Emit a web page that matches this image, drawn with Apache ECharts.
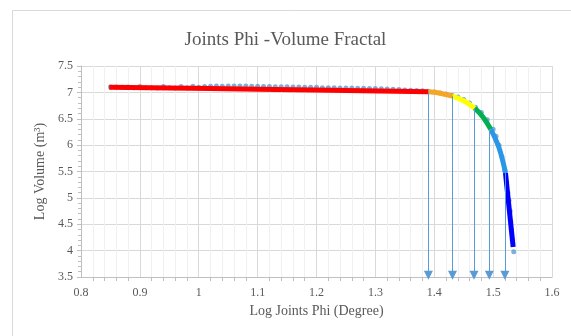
<!DOCTYPE html>
<html>
<head>
<meta charset="utf-8">
<script src="https://cdn.jsdelivr.net/npm/echarts@6/dist/echarts.min.js"></script>
<style>
  html, body { margin: 0; padding: 0; background: #fff; }
  #chart { width: 571px; height: 336px; }
</style>
</head>
<body>
<div id="chart"></div>
<script>
// scatter of raw points (log phi, log volume)
var rawX = [0.85, 0.86, 0.87, 0.88, 0.89, 0.90, 0.91, 0.92, 0.93, 0.94, 0.95, 0.96, 0.97, 0.98, 0.99,
  1.00, 1.01, 1.02, 1.03, 1.04, 1.05, 1.06, 1.07, 1.08, 1.09, 1.10, 1.11, 1.12, 1.13, 1.14,
  1.15, 1.16, 1.17, 1.18, 1.19, 1.20, 1.21, 1.22, 1.23, 1.24, 1.25, 1.26, 1.27, 1.28, 1.29,
  1.30, 1.31, 1.32, 1.33, 1.34, 1.35, 1.36, 1.37, 1.38, 1.39, 1.40, 1.41, 1.42, 1.43, 1.44,
  1.45, 1.46, 1.47, 1.48, 1.49, 1.50, 1.505, 1.51, 1.515, 1.52, 1.523, 1.525, 1.527, 1.529,
  1.53, 1.531, 1.533, 1.535];
var rawY = [7.10, 7.10, 7.095, 7.10, 7.09, 7.11, 7.09, 7.09, 7.085, 7.11, 7.09, 7.085, 7.11, 7.09, 7.115,
  7.095, 7.11, 7.115, 7.12, 7.115, 7.12, 7.12, 7.12, 7.12, 7.115, 7.115, 7.11, 7.11, 7.105, 7.105,
  7.105, 7.10, 7.10, 7.095, 7.095, 7.095, 7.09, 7.09, 7.09, 7.085, 7.085, 7.085, 7.08, 7.08, 7.075,
  7.075, 7.07, 7.065, 7.06, 7.055, 7.045, 7.04, 7.035, 7.03, 7.02, 7.005, 6.99, 6.97, 6.945, 6.91,
  6.865, 6.80, 6.72, 6.62, 6.48, 6.30, 6.17, 6.00, 5.78, 5.52, 5.30, 5.10, 4.95, 4.75,
  4.55, 4.40, 4.20, 3.98];

// coloured fitted segments
var redX = [0.848, 1.10, 1.39];
var redY = [7.095, 7.06, 7.01];
var orangeX = [1.39, 1.41, 1.431];
var orangeY = [7.01, 6.985, 6.93];
var yellowX = [1.431, 1.45, 1.4687];
var yellowY = [6.93, 6.84, 6.70];
var greenX = [1.4687, 1.483, 1.496];
var greenY = [6.70, 6.53, 6.30];
var lightBlueX = [1.496, 1.51, 1.521];
var lightBlueY = [6.30, 5.95, 5.47];
var blueX = [1.521, 1.534];
var blueY = [5.47, 4.07];

// arrows marking the break points
var arrowX = [1.390, 1.431, 1.4675, 1.4935, 1.520];
var arrowTop = [7.01, 6.93, 6.70, 6.30, 5.47];
var arrowBottom = 3.535;

function pairs(xs, ys) {
  return xs.map(function (x, i) { return [x, ys[i]]; });
}

var font = 'Liberation Serif';
var textColor = '#595959';

function segment(xs, ys, color) {
  return {
    type: 'line',
    data: pairs(xs, ys),
    smooth: 0.4,
    symbol: 'none',
    lineStyle: { color: color, width: 5 },
    z: 3,
    silent: true
  };
}

var chart = echarts.init(document.getElementById('chart'));
chart.setOption({
  animation: false,
  backgroundColor: '#ffffff',
  title: {
    text: 'Joints Phi -Volume Fractal',
    left: 'center',
    top: 26,
    textStyle: { fontFamily: font, fontSize: 19, fontWeight: 'normal', color: textColor }
  },
  graphic: [{
    type: 'rect',
    shape: { x: 12.5, y: 10.5, width: 580, height: 340 },
    style: { fill: 'none', stroke: '#d9d9d9', lineWidth: 1 },
    silent: true
  }],
  grid: { left: 81, right: 19, top: 66, bottom: 59 },
  xAxis: {
    type: 'value',
    min: 0.8, max: 1.6, interval: 0.1,
    name: 'Log Joints Phi (Degree)',
    nameLocation: 'middle',
    nameGap: 26,
    nameTextStyle: { fontFamily: font, fontSize: 14, color: textColor },
    axisLine: { lineStyle: { color: '#bfbfbf' } },
    axisTick: { show: false },
    minorTick: { show: true, splitNumber: 5, length: 4, lineStyle: { color: '#bfbfbf' } },
    splitLine: { show: true, lineStyle: { color: '#d9d9d9' } },
    minorSplitLine: { show: true, lineStyle: { color: '#f0f0f0' } },
    axisLabel: {
      fontFamily: font, fontSize: 12, color: textColor, margin: 10,
      formatter: function (v) { return String(Math.round(v * 10) / 10); }
    }
  },
  yAxis: {
    type: 'value',
    min: 3.5, max: 7.5, interval: 0.5,
    name: 'Log Volume (m³)',
    nameLocation: 'middle',
    nameGap: 32,
    nameTextStyle: { fontFamily: font, fontSize: 14, color: textColor },
    axisLine: { show: true, lineStyle: { color: '#bfbfbf' } },
    axisTick: { show: true, length: 4, lineStyle: { color: '#bfbfbf' } },
    minorTick: { show: true, splitNumber: 5, length: 3, lineStyle: { color: '#bfbfbf' } },
    splitLine: { show: true, lineStyle: { color: '#d9d9d9' } },
    axisLabel: { fontFamily: font, fontSize: 12, color: textColor, margin: 8 }
  },
  series: [
    {
      type: 'scatter',
      data: pairs(rawX, rawY),
      symbolSize: 5,
      itemStyle: { color: '#5b9bd5' },
      z: 2,
      markLine: {
        silent: true,
        symbol: ['none', 'triangle'],
        symbolSize: [9, 9],
        label: { show: false },
        lineStyle: { color: '#5b9bd5', width: 1, type: 'solid' },
        data: arrowX.map(function (x, i) {
          return [{ coord: [x, arrowTop[i]] }, { coord: [x, arrowBottom] }];
        })
      }
    },
    segment(redX, redY, '#ff0000'),
    segment(orangeX, orangeY, '#f5a623'),
    segment(yellowX, yellowY, '#ffff00'),
    segment(greenX, greenY, '#00b050'),
    segment(lightBlueX, lightBlueY, '#2a96e6'),
    segment(blueX, blueY, '#0000ff')
  ]
});
</script>
</body>
</html>
